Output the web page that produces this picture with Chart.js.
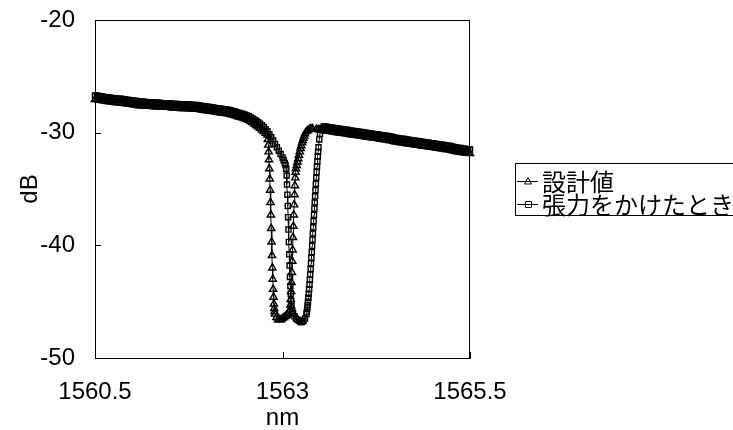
<!DOCTYPE html>
<html>
<head>
<meta charset="utf-8">
<script src="https://cdn.jsdelivr.net/npm/chart.js@4.4.1/dist/chart.umd.min.js"></script>
<style>
  body { margin: 0; background: #fff; }
  canvas { display: block; }
</style>
</head>
<body>
<canvas id="specChart" width="733" height="430"></canvas>
<script>
// 凡例ラベル
var seriesLabels = ['設計値', '張力をかけたとき'];

// 軸の目盛り
var xTicks = [1560.5, 1563, 1565.5];
var xTickLabels = ['1560.5', '1563', '1565.5'];
var yTicks = [-50, -40, -30, -20];

// 設計値 (nm / dB)
var designNm = [
  1560.500, 1560.525, 1560.550, 1560.575, 1560.600, 1560.625, 1560.650, 1560.675, 1560.700, 1560.725,
  1560.750, 1560.775, 1560.800, 1560.825, 1560.850, 1560.875, 1560.900, 1560.925, 1560.950, 1560.975,
  1561.000, 1561.025, 1561.050, 1561.075, 1561.100, 1561.125, 1561.150, 1561.175, 1561.200, 1561.225,
  1561.250, 1561.275, 1561.300, 1561.325, 1561.350, 1561.375, 1561.400, 1561.425, 1561.450, 1561.475,
  1561.500, 1561.525, 1561.550, 1561.575, 1561.600, 1561.625, 1561.650, 1561.675, 1561.700, 1561.725,
  1561.750, 1561.775, 1561.800, 1561.825, 1561.850, 1561.875, 1561.900, 1561.925, 1561.950, 1561.975,
  1562.000, 1562.025, 1562.050, 1562.075, 1562.100, 1562.125, 1562.150, 1562.175, 1562.200, 1562.225,
  1562.250, 1562.275, 1562.300, 1562.325, 1562.350, 1562.375, 1562.400, 1562.425, 1562.450, 1562.475,
  1562.500, 1562.525, 1562.550, 1562.575, 1562.600, 1562.625, 1562.650, 1562.675, 1562.700, 1562.725,
  1562.750, 1562.775, 1562.800,
  1562.805, 1562.810, 1562.815, 1562.820, 1562.825, 1562.830, 1562.835, 1562.840, 1562.845, 1562.850,
  1562.855, 1562.860, 1562.865, 1562.870, 1562.875, 1562.880, 1562.885, 1562.890, 1562.895, 1562.900,
  1562.92, 1562.94, 1562.96, 1562.98, 1563.00, 1563.02, 1563.04, 1563.06, 1563.08, 1563.10,
  1563.105, 1563.110, 1563.115, 1563.120, 1563.125, 1563.130, 1563.135, 1563.140, 1563.145, 1563.150,
  1563.155, 1563.160, 1563.165, 1563.170, 1563.175, 1563.180,
  1563.19, 1563.20, 1563.21, 1563.22, 1563.23, 1563.24, 1563.25, 1563.26, 1563.27, 1563.28, 1563.29, 1563.30,
  1563.32, 1563.34, 1563.36, 1563.38, 1563.40, 1563.45, 1563.475,
  1563.500, 1563.525, 1563.550, 1563.575, 1563.600, 1563.625, 1563.650, 1563.675, 1563.700, 1563.725,
  1563.750, 1563.775, 1563.800, 1563.825, 1563.850, 1563.875, 1563.900, 1563.925, 1563.950, 1563.975,
  1564.000, 1564.025, 1564.050, 1564.075, 1564.100, 1564.125, 1564.150, 1564.175, 1564.200, 1564.225,
  1564.250, 1564.275, 1564.300, 1564.325, 1564.350, 1564.375, 1564.400, 1564.425, 1564.450, 1564.475,
  1564.500, 1564.525, 1564.550, 1564.575, 1564.600, 1564.625, 1564.650, 1564.675, 1564.700, 1564.725,
  1564.750, 1564.775, 1564.800, 1564.825, 1564.850, 1564.875, 1564.900, 1564.925, 1564.950, 1564.975,
  1565.000, 1565.025, 1565.050, 1565.075, 1565.100, 1565.125, 1565.150, 1565.175, 1565.200, 1565.225,
  1565.250, 1565.275, 1565.300, 1565.325, 1565.350, 1565.375, 1565.400, 1565.425, 1565.450, 1565.475,
  1565.500
];
var designDb = [
  -27.05, -27.05, -27.10, -27.12, -27.15, -27.18, -27.20, -27.22, -27.25, -27.28,
  -27.30, -27.32, -27.35, -27.35, -27.35, -27.38, -27.40, -27.42, -27.45, -27.48,
  -27.50, -27.52, -27.55, -27.58, -27.60, -27.60, -27.60, -27.62, -27.65, -27.65,
  -27.65, -27.68, -27.70, -27.70, -27.70, -27.72, -27.75, -27.75, -27.75, -27.75,
  -27.75, -27.78, -27.80, -27.80, -27.80, -27.82, -27.85, -27.85, -27.85, -27.85,
  -27.85, -27.88, -27.90, -27.90, -27.90, -27.92, -27.95, -27.98, -28.00, -28.02,
  -28.05, -28.08, -28.10, -28.12, -28.15, -28.18, -28.20, -28.22, -28.25, -28.28,
  -28.30, -28.32, -28.35, -28.40, -28.45, -28.50, -28.55, -28.60, -28.65, -28.70,
  -28.75, -28.82, -28.90, -29.00, -29.10, -29.22, -29.35, -29.48, -29.60, -29.75,
  -29.90, -30.05, -30.20,
  -30.6, -31.1, -31.7, -32.4, -33.2, -34.1, -35.1, -36.2, -37.3, -38.5,
  -39.7, -40.9, -42.0, -43.0, -43.9, -44.6, -45.2, -45.6, -45.9, -46.1,
  -46.4, -46.6, -46.6, -46.6, -46.5, -46.4, -46.3, -46.2, -46.0, -45.7,
  -45.3, -44.8, -44.1, -43.3, -42.4, -41.4, -40.4, -39.3, -38.3, -37.3,
  -36.4, -35.5, -34.7, -34.0, -33.5, -33.2,
  -32.9, -32.6, -32.3, -32.0, -31.7, -31.4, -31.15, -30.9, -30.7, -30.5, -30.3, -30.1,
  -29.9, -29.8, -29.7, -29.65, -29.65, -29.7, -29.72,
  -29.75, -29.78, -29.80, -29.82, -29.85, -29.88, -29.90, -29.92, -29.95, -29.98,
  -30.00, -30.02, -30.05, -30.08, -30.10, -30.12, -30.15, -30.18, -30.20, -30.22,
  -30.25, -30.28, -30.30, -30.32, -30.35, -30.38, -30.40, -30.42, -30.45, -30.48,
  -30.50, -30.52, -30.55, -30.58, -30.60, -30.62, -30.65, -30.68, -30.70, -30.75,
  -30.80, -30.82, -30.85, -30.88, -30.90, -30.92, -30.95, -30.98, -31.00, -31.02,
  -31.05, -31.08, -31.10, -31.12, -31.15, -31.18, -31.20, -31.22, -31.25, -31.28,
  -31.30, -31.32, -31.35, -31.38, -31.40, -31.42, -31.45, -31.48, -31.50, -31.52,
  -31.55, -31.60, -31.65, -31.68, -31.70, -31.72, -31.75, -31.78, -31.80, -31.82,
  -31.85
];

// 張力をかけたとき (nm / dB)
var tensionNm = [
  1560.500, 1560.525, 1560.550, 1560.575, 1560.600, 1560.625, 1560.650, 1560.675, 1560.700, 1560.725,
  1560.750, 1560.775, 1560.800, 1560.825, 1560.850, 1560.875, 1560.900, 1560.925, 1560.950, 1560.975,
  1561.000, 1561.025, 1561.050, 1561.075, 1561.100, 1561.125, 1561.150, 1561.175, 1561.200, 1561.225,
  1561.250, 1561.275, 1561.300, 1561.325, 1561.350, 1561.375, 1561.400, 1561.425, 1561.450, 1561.475,
  1561.500, 1561.525, 1561.550, 1561.575, 1561.600, 1561.625, 1561.650, 1561.675, 1561.700, 1561.725,
  1561.750, 1561.775, 1561.800, 1561.825, 1561.850, 1561.875, 1561.900, 1561.925, 1561.950, 1561.975,
  1562.000, 1562.025, 1562.050, 1562.075, 1562.100, 1562.125, 1562.150, 1562.175, 1562.200, 1562.225,
  1562.250, 1562.275, 1562.300, 1562.325, 1562.350, 1562.375, 1562.400, 1562.425, 1562.450, 1562.475,
  1562.500, 1562.525, 1562.550, 1562.575, 1562.600, 1562.625, 1562.650, 1562.675, 1562.700, 1562.725,
  1562.750, 1562.775, 1562.800, 1562.825, 1562.850, 1562.875, 1562.900, 1562.925, 1562.950, 1562.975,
  1563.000, 1563.015, 1563.03, 1563.04, 1563.05,
  1563.055, 1563.060, 1563.065, 1563.070, 1563.075, 1563.080, 1563.085, 1563.090, 1563.095, 1563.100,
  1563.105, 1563.110, 1563.115, 1563.120, 1563.13,
  1563.14, 1563.16, 1563.18, 1563.20, 1563.22, 1563.24, 1563.26, 1563.28, 1563.30, 1563.32,
  1563.325, 1563.330, 1563.335, 1563.340, 1563.345, 1563.350, 1563.355, 1563.360, 1563.365, 1563.370,
  1563.375, 1563.380, 1563.385, 1563.390, 1563.395, 1563.400, 1563.405, 1563.410, 1563.415, 1563.420,
  1563.425, 1563.430, 1563.435, 1563.440, 1563.445, 1563.450, 1563.455, 1563.460, 1563.465, 1563.470,
  1563.475, 1563.48, 1563.49, 1563.50, 1563.52, 1563.55, 1563.575,
  1563.600, 1563.625, 1563.650, 1563.675, 1563.700, 1563.725, 1563.750, 1563.775, 1563.800, 1563.825,
  1563.850, 1563.875, 1563.900, 1563.925, 1563.950, 1563.975, 1564.000, 1564.025, 1564.050, 1564.075,
  1564.100, 1564.125, 1564.150, 1564.175, 1564.200, 1564.225, 1564.250, 1564.275, 1564.300, 1564.325,
  1564.350, 1564.375, 1564.400, 1564.425, 1564.450, 1564.475, 1564.500, 1564.525, 1564.550, 1564.575,
  1564.600, 1564.625, 1564.650, 1564.675, 1564.700, 1564.725, 1564.750, 1564.775, 1564.800, 1564.825,
  1564.850, 1564.875, 1564.900, 1564.925, 1564.950, 1564.975, 1565.000, 1565.025, 1565.050, 1565.075,
  1565.100, 1565.125, 1565.150, 1565.175, 1565.200, 1565.225, 1565.250, 1565.275, 1565.300, 1565.325,
  1565.350, 1565.375, 1565.400, 1565.425, 1565.450, 1565.475, 1565.500
];
var tensionDb = [
  -26.70, -26.70, -26.75, -26.77, -26.80, -26.83, -26.85, -26.87, -26.90, -26.93,
  -26.95, -26.97, -27.00, -27.00, -27.00, -27.03, -27.05, -27.07, -27.10, -27.13,
  -27.15, -27.17, -27.20, -27.23, -27.25, -27.25, -27.25, -27.27, -27.30, -27.30,
  -27.30, -27.33, -27.35, -27.35, -27.35, -27.37, -27.40, -27.40, -27.40, -27.40,
  -27.40, -27.43, -27.45, -27.45, -27.45, -27.47, -27.50, -27.50, -27.50, -27.50,
  -27.50, -27.53, -27.55, -27.55, -27.55, -27.57, -27.60, -27.63, -27.65, -27.67,
  -27.70, -27.73, -27.75, -27.77, -27.80, -27.83, -27.85, -27.87, -27.90, -27.93,
  -27.95, -27.97, -28.00, -28.05, -28.10, -28.15, -28.20, -28.25, -28.30, -28.35,
  -28.40, -28.47, -28.55, -28.65, -28.75, -28.85, -28.95, -29.08, -29.20, -29.35,
  -29.50, -29.70, -29.90, -30.15, -30.40, -30.70, -31.00, -31.30, -31.60, -31.90,
  -32.20, -32.45, -32.7, -32.9, -33.2,
  -33.8, -34.6, -35.5, -36.5, -37.5, -38.6, -39.7, -40.8, -41.8, -42.8,
  -43.6, -44.3, -44.9, -45.4, -45.8,
  -46.0, -46.3, -46.5, -46.6, -46.7, -46.8, -46.8, -46.7, -46.5, -46.1,
  -45.9, -45.6, -45.3, -45.0, -44.65, -44.3, -43.9, -43.5, -43.05, -42.6,
  -42.1, -41.6, -41.1, -40.6, -40.05, -39.5, -38.95, -38.4, -37.85, -37.3,
  -36.75, -36.2, -35.65, -35.1, -34.55, -34.0, -33.5, -33.0, -32.55, -32.1,
  -31.7, -31.3, -30.6, -30.1, -29.6, -29.45, -29.45,
  -29.50, -29.53, -29.55, -29.57, -29.60, -29.63, -29.65, -29.67, -29.70, -29.73,
  -29.75, -29.77, -29.80, -29.83, -29.85, -29.87, -29.90, -29.93, -29.95, -29.97,
  -30.00, -30.03, -30.05, -30.07, -30.10, -30.13, -30.15, -30.17, -30.20, -30.23,
  -30.25, -30.27, -30.30, -30.33, -30.35, -30.40, -30.45, -30.47, -30.50, -30.53,
  -30.55, -30.57, -30.60, -30.63, -30.65, -30.67, -30.70, -30.73, -30.75, -30.77,
  -30.80, -30.83, -30.85, -30.87, -30.90, -30.93, -30.95, -30.97, -31.00, -31.03,
  -31.05, -31.07, -31.10, -31.13, -31.15, -31.17, -31.20, -31.25, -31.30, -31.33,
  -31.35, -31.37, -31.40, -31.43, -31.45, -31.47, -31.50
];

function toPoints(xs, ys) {
  return xs.map(function (x, i) { return {x: x, y: ys[i]}; });
}

var TICK_FONT = {family: '"Liberation Sans", Arial, sans-serif', size: 24};
var TITLE_FONT = {family: '"Liberation Sans", Arial, sans-serif', size: 24, lineHeight: 1};
var CJK_FONT = '24px "Noto Sans CJK JP", sans-serif';

// 枠線と内向きの目盛り、枠付きの凡例
var framePlugin = {
  id: 'frame',
  afterDraw: function (chart) {
    var ctx = chart.ctx, a = chart.chartArea;
    var xs = chart.scales.x, ys = chart.scales.y;
    ctx.save();
    ctx.strokeStyle = '#000';
    ctx.lineWidth = 1;
    ctx.beginPath();
    ctx.moveTo(a.left, a.top + 0.5);
    ctx.lineTo(a.right, a.top + 0.5);
    ctx.moveTo(a.right - 0.5, a.top);
    ctx.lineTo(a.right - 0.5, a.bottom);
    yTicks.forEach(function (v) {
      var py = Math.round(ys.getPixelForValue(v)) + 0.5;
      ctx.moveTo(a.left, py);
      ctx.lineTo(a.left + 6, py);
    });
    xTicks.forEach(function (v) {
      var px = Math.round(xs.getPixelForValue(v)) + 0.5;
      ctx.moveTo(px, a.bottom);
      ctx.lineTo(px, a.bottom - 6);
    });
    ctx.stroke();

    // 凡例
    var bx = 515, by = 163, bh = 52;
    ctx.strokeRect(bx + 0.5, by + 0.5, 300, bh);
    var rows = [181, 204];
    ctx.font = CJK_FONT;
    ctx.fillStyle = '#000';
    ctx.textBaseline = 'middle';
    rows.forEach(function (ry, i) {
      ctx.beginPath();
      ctx.moveTo(517, ry + 0.5);
      ctx.lineTo(538, ry + 0.5);
      ctx.stroke();
      ctx.beginPath();
      if (i === 0) {
        ctx.moveTo(528, ry - 3.5);
        ctx.lineTo(531.5, ry + 3);
        ctx.lineTo(524.5, ry + 3);
        ctx.closePath();
      } else {
        ctx.rect(525.5, ry - 2.5, 6, 6);
      }
      ctx.stroke();
      ctx.fillText(seriesLabels[i], 542, ry + 1);
    });
    ctx.restore();
  }
};

var ctx = document.getElementById('specChart').getContext('2d');
var chart = new Chart(ctx, {
  type: 'scatter',
  data: {
    datasets: [{
      label: seriesLabels[0],
      data: toPoints(designNm, designDb),
      showLine: true,
      borderColor: '#000',
      borderWidth: 1,
      pointStyle: 'triangle',
      pointRadius: 4.2,
      pointBorderWidth: 1.4,
      pointBorderColor: '#000',
      pointBackgroundColor: 'rgba(0,0,0,0)',
      clip: false
    }, {
      label: seriesLabels[1],
      data: toPoints(tensionNm, tensionDb),
      showLine: true,
      borderColor: '#000',
      borderWidth: 1,
      pointStyle: 'rect',
      pointRadius: 3.6,
      pointBorderWidth: 1.4,
      pointBorderColor: '#000',
      pointBackgroundColor: 'rgba(0,0,0,0)',
      clip: false
    }]
  },
  options: {
    responsive: false,
    animation: false,
    layout: {padding: {top: 20, right: 263, bottom: 0, left: 0}},
    plugins: {legend: {display: false}, tooltip: {enabled: false}},
    scales: {
      x: {
        type: 'linear',
        min: 1560.5,
        max: 1565.5,
        afterBuildTicks: function (s) { s.ticks = xTicks.map(function (v) { return {value: v}; }); },
        afterFit: function (s) { s.height = 72; },
        grid: {display: false, drawTicks: false},
        border: {display: true, color: '#000', width: 1},
        ticks: {
          color: '#000', font: TICK_FONT, padding: 20, maxRotation: 0,
          callback: function (v) { return xTickLabels[xTicks.indexOf(v)]; }
        },
        title: {display: true, text: 'nm', color: '#000', font: TITLE_FONT, padding: {top: 0, bottom: 0}}
      },
      y: {
        min: -50,
        max: -20,
        afterBuildTicks: function (s) { s.ticks = yTicks.map(function (v) { return {value: v}; }); },
        afterFit: function (s) { s.width = 95; s.paddingTop = 10; s.paddingBottom = 10; },
        grid: {display: false, drawTicks: false},
        border: {display: true, color: '#000', width: 1},
        ticks: {color: '#000', font: TICK_FONT, padding: 20},
        title: {display: true, text: 'dB', color: '#000', font: TICK_FONT, padding: {top: 16, bottom: 0}}
      }
    }
  },
  plugins: [framePlugin]
});
</script>
</body>
</html>
